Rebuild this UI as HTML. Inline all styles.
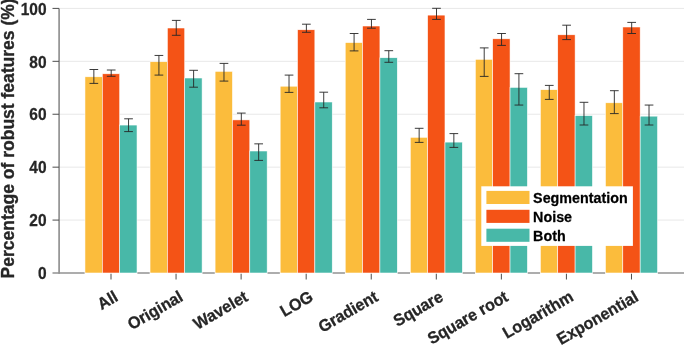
<!DOCTYPE html>
<html lang="en"><head><meta charset="utf-8"><title>Percentage of robust features</title>
<style>html,body{margin:0;padding:0;background:#fff;}body{width:685px;height:345px;overflow:hidden;}svg{display:block;will-change:transform;}text{font-family:"Liberation Sans", Arial, Helvetica, sans-serif;font-weight:bold;stroke-linejoin:round;}</style>
</head><body>
<svg width="685" height="345" viewBox="0 0 685 345">
<rect x="0" y="0" width="685" height="345" fill="#ffffff"/>
<line x1="59.10" y1="220.08" x2="684" y2="220.08" stroke="#e8e8e8" stroke-width="1"/>
<line x1="59.10" y1="167.16" x2="684" y2="167.16" stroke="#e8e8e8" stroke-width="1"/>
<line x1="59.10" y1="114.24" x2="684" y2="114.24" stroke="#e8e8e8" stroke-width="1"/>
<line x1="59.10" y1="61.32" x2="684" y2="61.32" stroke="#e8e8e8" stroke-width="1"/>
<line x1="59.10" y1="8.40" x2="684" y2="8.40" stroke="#e8e8e8" stroke-width="1"/>
<line x1="59.10" y1="8.40" x2="59.10" y2="273.75" stroke="#929292" stroke-width="1.7"/>
<line x1="52.50" y1="273.00" x2="684" y2="273.00" stroke="#929292" stroke-width="1.7"/>
<text transform="translate(46.6,279.20) scale(1,1.10)" text-anchor="end" font-size="15.5" fill="#262626" stroke="#262626" stroke-width="0.25">0</text>
<line x1="52.5" y1="220.08" x2="59.10" y2="220.08" stroke="#4d4d4d" stroke-width="1"/>
<text transform="translate(46.6,226.28) scale(1,1.10)" text-anchor="end" font-size="15.5" fill="#262626" stroke="#262626" stroke-width="0.25">20</text>
<line x1="52.5" y1="167.16" x2="59.10" y2="167.16" stroke="#4d4d4d" stroke-width="1"/>
<text transform="translate(46.6,173.36) scale(1,1.10)" text-anchor="end" font-size="15.5" fill="#262626" stroke="#262626" stroke-width="0.25">40</text>
<line x1="52.5" y1="114.24" x2="59.10" y2="114.24" stroke="#4d4d4d" stroke-width="1"/>
<text transform="translate(46.6,120.44) scale(1,1.10)" text-anchor="end" font-size="15.5" fill="#262626" stroke="#262626" stroke-width="0.25">60</text>
<line x1="52.5" y1="61.32" x2="59.10" y2="61.32" stroke="#4d4d4d" stroke-width="1"/>
<text transform="translate(46.6,67.52) scale(1,1.10)" text-anchor="end" font-size="15.5" fill="#262626" stroke="#262626" stroke-width="0.25">80</text>
<line x1="52.5" y1="8.40" x2="59.10" y2="8.40" stroke="#4d4d4d" stroke-width="1"/>
<text transform="translate(46.6,14.60) scale(1,1.10)" text-anchor="end" font-size="15.5" fill="#262626" stroke="#262626" stroke-width="0.25">100</text>
<rect x="84.67" y="272.70" width="52.65" height="1.6" fill="#ffffff"/>
<rect x="84.97" y="76.80" width="17.35" height="196.20" fill="#FBBC3C" stroke="#ffffff" stroke-width="0.55"/>
<rect x="102.32" y="73.80" width="17.35" height="199.20" fill="#F45316" stroke="#ffffff" stroke-width="0.55"/>
<rect x="119.67" y="125.05" width="17.35" height="147.95" fill="#48B8A8" stroke="#ffffff" stroke-width="0.55"/>
<path d="M93.85 69.50V83.40M89.50 69.50H98.20M89.50 83.40H98.20" fill="none" stroke="#262626" stroke-width="0.9"/>
<path d="M111.20 70.00V76.30M106.85 70.00H115.55M106.85 76.30H115.55" fill="none" stroke="#262626" stroke-width="0.9"/>
<path d="M128.55 118.80V131.60M124.20 118.80H132.90M124.20 131.60H132.90" fill="none" stroke="#262626" stroke-width="0.9"/>
<line x1="111.00" y1="273.75" x2="111.00" y2="279.50" stroke="#4d4d4d" stroke-width="1"/>
<text transform="translate(119.10,300.00) rotate(-30) scale(1,1.04)" text-anchor="end" font-size="16" fill="#262626" stroke="#262626" stroke-width="0.28">All</text>
<rect x="149.73" y="272.70" width="52.65" height="1.6" fill="#ffffff"/>
<rect x="150.03" y="61.75" width="17.35" height="211.25" fill="#FBBC3C" stroke="#ffffff" stroke-width="0.55"/>
<rect x="167.38" y="28.00" width="17.35" height="245.00" fill="#F45316" stroke="#ffffff" stroke-width="0.55"/>
<rect x="184.74" y="78.00" width="17.35" height="195.00" fill="#48B8A8" stroke="#ffffff" stroke-width="0.55"/>
<path d="M158.91 55.45V75.10M154.56 55.45H163.26M154.56 75.10H163.26" fill="none" stroke="#262626" stroke-width="0.9"/>
<path d="M176.26 20.40V35.30M171.91 20.40H180.61M171.91 35.30H180.61" fill="none" stroke="#262626" stroke-width="0.9"/>
<path d="M193.61 70.30V87.20M189.26 70.30H197.96M189.26 87.20H197.96" fill="none" stroke="#262626" stroke-width="0.9"/>
<line x1="176.06" y1="273.75" x2="176.06" y2="279.50" stroke="#4d4d4d" stroke-width="1"/>
<text transform="translate(184.16,300.00) rotate(-30) scale(1,1.04)" text-anchor="end" font-size="16" fill="#262626" stroke="#262626" stroke-width="0.28">Original</text>
<rect x="214.79" y="272.70" width="52.65" height="1.6" fill="#ffffff"/>
<rect x="215.09" y="71.35" width="17.35" height="201.65" fill="#FBBC3C" stroke="#ffffff" stroke-width="0.55"/>
<rect x="232.44" y="119.90" width="17.35" height="153.10" fill="#F45316" stroke="#ffffff" stroke-width="0.55"/>
<rect x="249.80" y="151.00" width="17.35" height="122.00" fill="#48B8A8" stroke="#ffffff" stroke-width="0.55"/>
<path d="M223.97 63.40V81.10M219.62 63.40H228.32M219.62 81.10H228.32" fill="none" stroke="#262626" stroke-width="0.9"/>
<path d="M241.32 113.10V125.20M236.97 113.10H245.67M236.97 125.20H245.67" fill="none" stroke="#262626" stroke-width="0.9"/>
<path d="M258.67 143.85V160.40M254.32 143.85H263.02M254.32 160.40H263.02" fill="none" stroke="#262626" stroke-width="0.9"/>
<line x1="241.12" y1="273.75" x2="241.12" y2="279.50" stroke="#4d4d4d" stroke-width="1"/>
<text transform="translate(249.22,300.00) rotate(-30) scale(1,1.04)" text-anchor="end" font-size="16" fill="#262626" stroke="#262626" stroke-width="0.28">Wavelet</text>
<rect x="279.86" y="272.70" width="52.65" height="1.6" fill="#ffffff"/>
<rect x="280.16" y="86.20" width="17.35" height="186.80" fill="#FBBC3C" stroke="#ffffff" stroke-width="0.55"/>
<rect x="297.51" y="29.76" width="17.35" height="243.24" fill="#F45316" stroke="#ffffff" stroke-width="0.55"/>
<rect x="314.86" y="102.00" width="17.35" height="171.00" fill="#48B8A8" stroke="#ffffff" stroke-width="0.55"/>
<path d="M289.03 75.10V92.40M284.68 75.10H293.38M284.68 92.40H293.38" fill="none" stroke="#262626" stroke-width="0.9"/>
<path d="M306.38 24.20V32.30M302.03 24.20H310.73M302.03 32.30H310.73" fill="none" stroke="#262626" stroke-width="0.9"/>
<path d="M323.73 92.20V107.80M319.38 92.20H328.08M319.38 107.80H328.08" fill="none" stroke="#262626" stroke-width="0.9"/>
<line x1="306.18" y1="273.75" x2="306.18" y2="279.50" stroke="#4d4d4d" stroke-width="1"/>
<text transform="translate(314.28,300.00) rotate(-30) scale(1,1.04)" text-anchor="end" font-size="16" fill="#262626" stroke="#262626" stroke-width="0.28">LOG</text>
<rect x="344.92" y="272.70" width="52.65" height="1.6" fill="#ffffff"/>
<rect x="345.22" y="42.60" width="17.35" height="230.40" fill="#FBBC3C" stroke="#ffffff" stroke-width="0.55"/>
<rect x="362.57" y="26.00" width="17.35" height="247.00" fill="#F45316" stroke="#ffffff" stroke-width="0.55"/>
<rect x="379.92" y="57.75" width="17.35" height="215.25" fill="#48B8A8" stroke="#ffffff" stroke-width="0.55"/>
<path d="M354.09 33.50V50.90M349.74 33.50H358.44M349.74 50.90H358.44" fill="none" stroke="#262626" stroke-width="0.9"/>
<path d="M371.44 19.40V28.20M367.09 19.40H375.79M367.09 28.20H375.79" fill="none" stroke="#262626" stroke-width="0.9"/>
<path d="M388.79 50.70V62.30M384.44 50.70H393.14M384.44 62.30H393.14" fill="none" stroke="#262626" stroke-width="0.9"/>
<line x1="371.24" y1="273.75" x2="371.24" y2="279.50" stroke="#4d4d4d" stroke-width="1"/>
<text transform="translate(379.34,300.00) rotate(-30) scale(1,1.04)" text-anchor="end" font-size="16" fill="#262626" stroke="#262626" stroke-width="0.28">Gradient</text>
<rect x="409.98" y="272.70" width="52.65" height="1.6" fill="#ffffff"/>
<rect x="410.28" y="137.30" width="17.35" height="135.70" fill="#FBBC3C" stroke="#ffffff" stroke-width="0.55"/>
<rect x="427.63" y="15.10" width="17.35" height="257.90" fill="#F45316" stroke="#ffffff" stroke-width="0.55"/>
<rect x="444.98" y="142.10" width="17.35" height="130.90" fill="#48B8A8" stroke="#ffffff" stroke-width="0.55"/>
<path d="M419.15 128.30V142.40M414.80 128.30H423.50M414.80 142.40H423.50" fill="none" stroke="#262626" stroke-width="0.9"/>
<path d="M436.50 8.30V19.40M432.15 8.30H440.85M432.15 19.40H440.85" fill="none" stroke="#262626" stroke-width="0.9"/>
<path d="M453.85 133.60V147.40M449.50 133.60H458.20M449.50 147.40H458.20" fill="none" stroke="#262626" stroke-width="0.9"/>
<line x1="436.30" y1="273.75" x2="436.30" y2="279.50" stroke="#4d4d4d" stroke-width="1"/>
<text transform="translate(444.40,300.00) rotate(-30) scale(1,1.04)" text-anchor="end" font-size="16" fill="#262626" stroke="#262626" stroke-width="0.28">Square</text>
<rect x="475.04" y="272.70" width="52.65" height="1.6" fill="#ffffff"/>
<rect x="475.34" y="59.30" width="17.35" height="213.70" fill="#FBBC3C" stroke="#ffffff" stroke-width="0.55"/>
<rect x="492.69" y="38.80" width="17.35" height="234.20" fill="#F45316" stroke="#ffffff" stroke-width="0.55"/>
<rect x="510.04" y="87.40" width="17.35" height="185.60" fill="#48B8A8" stroke="#ffffff" stroke-width="0.55"/>
<path d="M484.21 47.90V76.40M479.86 47.90H488.56M479.86 76.40H488.56" fill="none" stroke="#262626" stroke-width="0.9"/>
<path d="M501.56 33.50V45.40M497.21 33.50H505.91M497.21 45.40H505.91" fill="none" stroke="#262626" stroke-width="0.9"/>
<path d="M518.91 73.70V105.06M514.56 73.70H523.26M514.56 105.06H523.26" fill="none" stroke="#262626" stroke-width="0.9"/>
<line x1="501.36" y1="273.75" x2="501.36" y2="279.50" stroke="#4d4d4d" stroke-width="1"/>
<text transform="translate(509.46,300.00) rotate(-30) scale(1,1.04)" text-anchor="end" font-size="16" fill="#262626" stroke="#262626" stroke-width="0.28">Square root</text>
<rect x="540.10" y="272.70" width="52.65" height="1.6" fill="#ffffff"/>
<rect x="540.40" y="89.70" width="17.35" height="183.30" fill="#FBBC3C" stroke="#ffffff" stroke-width="0.55"/>
<rect x="557.75" y="34.80" width="17.35" height="238.20" fill="#F45316" stroke="#ffffff" stroke-width="0.55"/>
<rect x="575.10" y="115.65" width="17.35" height="157.35" fill="#48B8A8" stroke="#ffffff" stroke-width="0.55"/>
<path d="M549.27 85.40V99.40M544.92 85.40H553.62M544.92 99.40H553.62" fill="none" stroke="#262626" stroke-width="0.9"/>
<path d="M566.62 25.20V39.60M562.27 25.20H570.97M562.27 39.60H570.97" fill="none" stroke="#262626" stroke-width="0.9"/>
<path d="M583.97 102.30V125.00M579.62 102.30H588.32M579.62 125.00H588.32" fill="none" stroke="#262626" stroke-width="0.9"/>
<line x1="566.42" y1="273.75" x2="566.42" y2="279.50" stroke="#4d4d4d" stroke-width="1"/>
<text transform="translate(574.52,300.00) rotate(-30) scale(1,1.04)" text-anchor="end" font-size="16" fill="#262626" stroke="#262626" stroke-width="0.28">Logarithm</text>
<rect x="605.16" y="272.70" width="52.65" height="1.6" fill="#ffffff"/>
<rect x="605.46" y="102.80" width="17.35" height="170.20" fill="#FBBC3C" stroke="#ffffff" stroke-width="0.55"/>
<rect x="622.81" y="27.00" width="17.35" height="246.00" fill="#F45316" stroke="#ffffff" stroke-width="0.55"/>
<rect x="640.16" y="116.15" width="17.35" height="156.85" fill="#48B8A8" stroke="#ffffff" stroke-width="0.55"/>
<path d="M614.33 90.70V113.60M609.98 90.70H618.68M609.98 113.60H618.68" fill="none" stroke="#262626" stroke-width="0.9"/>
<path d="M631.68 22.40V33.50M627.33 22.40H636.03M627.33 33.50H636.03" fill="none" stroke="#262626" stroke-width="0.9"/>
<path d="M649.03 105.06V125.00M644.68 105.06H653.38M644.68 125.00H653.38" fill="none" stroke="#262626" stroke-width="0.9"/>
<line x1="631.48" y1="273.75" x2="631.48" y2="279.50" stroke="#4d4d4d" stroke-width="1"/>
<text transform="translate(639.58,300.00) rotate(-30) scale(1,1.04)" text-anchor="end" font-size="16" fill="#262626" stroke="#262626" stroke-width="0.28">Exponential</text>
<text transform="translate(14,278.4) rotate(-90)" font-size="17.5" fill="#262626" stroke="#262626" stroke-width="0.35">Percentage of robust features (%)</text>
<rect x="481.3" y="186.3" width="151.6" height="59.6" fill="#ffffff"/>
<rect x="486.4" y="190.90" width="43.1" height="13.1" fill="#FBBC3C"/>
<text transform="translate(533.1,203.30) scale(1,1.05)" font-size="14.3" fill="#000000" stroke="#000000" stroke-width="0.25">Segmentation</text>
<rect x="486.4" y="209.80" width="43.1" height="13.1" fill="#F45316"/>
<text transform="translate(533.1,222.20) scale(1,1.05)" font-size="14.3" fill="#000000" stroke="#000000" stroke-width="0.25">Noise</text>
<rect x="486.4" y="228.70" width="43.1" height="13.1" fill="#48B8A8"/>
<text transform="translate(533.1,241.10) scale(1,1.05)" font-size="14.3" fill="#000000" stroke="#000000" stroke-width="0.25">Both</text>
</svg>
</body></html>
